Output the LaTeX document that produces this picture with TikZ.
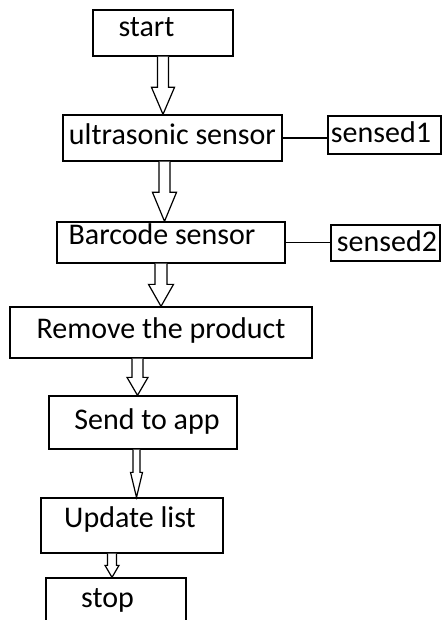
\documentclass[tikz,border=0pt]{standalone}
\usepackage{fontspec}
\setmainfont{Carlito}
\usepackage{tikz}
\usetikzlibrary{calc}

% hollow block arrow: from, to, x, shaft half width, head half width, head length
\newcommand{\blockarrow}[6]{%
    \draw[arrowline] let \p1=(#1.south), \p2=(#2.north) in
    (#3pt-#4pt,\y1) -- (#3pt-#4pt,\y2+#6pt) -- (#3pt-#5pt,\y2+#6pt) -- (#3pt,\y2)
    -- (#3pt+#5pt,\y2+#6pt) -- (#3pt+#4pt,\y2+#6pt) -- (#3pt+#4pt,\y1);
}

\begin{document}
\begin{tikzpicture}[x=1pt, y=-1pt, font=\fontsize{30}{36}\selectfont]
    \tikzset{
        stepbox/.style={draw, line width=1.3pt, inner sep=0pt, text height=20pt},
        arrowline/.style={draw, line width=1.2pt, fill=white, line join=miter},
        link/.style={draw, line width=1.2pt}
    }
    \useasboundingbox (0,0) rectangle (442,620);

    \node[stepbox, minimum width=140pt, minimum height=46pt, text depth=12pt] (start) at (163,33) {start\hspace*{33pt}};
    \node[stepbox, minimum width=219pt, minimum height=46pt, text depth=6pt] (ultra) at (172.5,138) {ultrasonic sensor};
    \node[stepbox, minimum width=113pt, minimum height=38pt, text depth=4pt] (sensedA) at (384.5,135) {sensed1\hspace*{7pt}};
    \node[stepbox, minimum width=228pt, minimum height=41pt, text depth=17pt] (barcode) at (171,242.5) {Barcode sensor\hspace*{18pt}};
    \node[stepbox, minimum width=109pt, minimum height=36pt, text depth=4pt] (sensedB) at (385.5,243) {\hspace*{3pt}sensed2};
    \node[stepbox, minimum width=302pt, minimum height=51pt, text depth=9pt] (remove) at (161,332.5) {Remove the product};
    \node[stepbox, minimum width=188pt, minimum height=53pt, text depth=7pt] (send) at (143,422.5) {\hspace*{8pt}Send to app};
    \node[stepbox, minimum width=182pt, minimum height=55pt, text depth=17pt] (update) at (132,525.5) {Update list\hspace*{4pt}};
    \node[stepbox, minimum width=140pt, minimum height=60pt, text depth=22pt] (stop) at (116,608) {stop\hspace*{17pt}};

    % side links
    \draw[link] (ultra.east) -- (ultra.east -| sensedA.west);
    \draw[link] (barcode.east) -- (barcode.east -| sensedB.west);

    % flow arrows
    \blockarrow{start}{ultra}{163}{5.5}{11.5}{27}
    \blockarrow{ultra}{barcode}{164.5}{5.5}{12}{29}
    \blockarrow{barcode}{remove}{161}{6}{12.5}{22}
    \blockarrow{remove}{send}{137.5}{5.5}{10.5}{18}
    \blockarrow{send}{update}{136.5}{3.5}{6}{25}
    \blockarrow{update}{stop}{112}{4.5}{7}{12}

\end{tikzpicture}
\end{document}
